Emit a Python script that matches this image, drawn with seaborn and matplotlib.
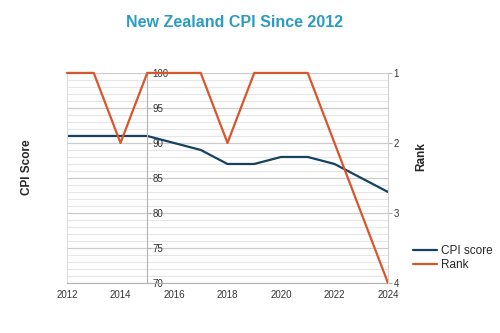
import matplotlib
matplotlib.use("Agg")
import matplotlib.pyplot as plt
import seaborn as sns
import pandas as pd
from matplotlib.ticker import MultipleLocator, FixedLocator

years = [2012, 2013, 2014, 2015, 2016, 2017, 2018, 2019, 2020, 2021, 2022, 2023, 2024]
cpi_score = [91, 91, 91, 91, 90, 89, 87, 87, 88, 88, 87, 85, 83]
rank = [1, 1, 2, 1, 1, 1, 2, 1, 1, 1, 2, 3, 4]
score_ticks = [70, 75, 80, 85, 90, 95, 100]
rank_ticks = [1, 2, 3, 4]

df = pd.DataFrame({"Year": years, "CPI score": cpi_score, "Rank": rank})

sns.set_style("white")
plt.rcParams["font.family"] = ["Liberation Sans", "DejaVu Sans"]

navy = "#17425f"
orange = "#d9552b"
axis_grey = "#b4b4b4"

fig = plt.figure(figsize=(5.0, 3.33), dpi=100)
ax = fig.add_axes([0.134, 0.150, 0.642, 0.631])
ax2 = ax.twinx()

# gridlines: light every point, stronger every five
ax.set_ylim(70, 100)
ax.yaxis.set_major_locator(FixedLocator(score_ticks))
ax.yaxis.set_minor_locator(MultipleLocator(1))
ax.grid(which="minor", axis="y", color="#e6e6e6", linewidth=0.8)
ax.grid(which="major", axis="y", color="#cccccc", linewidth=0.9)
ax.set_axisbelow(True)

# score axis sits on the 2015 line with its labels to the right
ax.set_xlim(2012, 2024)
ax.yaxis.tick_right()
ax.yaxis.set_label_position("left")
ax.spines["right"].set_position(("data", 2015))
ax.spines["right"].set_color(axis_grey)
ax.spines["left"].set_color("#dcdcdc")
ax.spines["left"].set_linewidth(0.8)
ax.spines["top"].set_visible(False)
ax.spines["bottom"].set_color(axis_grey)
ax.tick_params(axis="y", which="major", right=True, length=3, width=0.8,
               color=axis_grey, labelsize=7, labelcolor="#333333", pad=1)
ax.tick_params(axis="y", which="minor", right=False, left=False)

ax.xaxis.set_major_locator(FixedLocator(list(range(2012, 2025, 2))))
ax.xaxis.set_minor_locator(MultipleLocator(1))
ax.tick_params(axis="x", which="both", direction="in", length=3, width=0.8,
               color=axis_grey, labelsize=7, labelcolor="#333333", pad=5)
ax.set_xticklabels([str(y) for y in range(2012, 2025, 2)])

sns.lineplot(data=df, x="Year", y="CPI score", ax=ax, color=navy,
             linewidth=1.6, label="CPI score", legend=False)
ax.set_xlabel("")
ax.set_ylabel("CPI Score", fontsize=8.5, fontweight="bold")
ax.yaxis.set_label_coords(-0.106, 0.55)

sns.lineplot(data=df, x="Year", y="Rank", ax=ax2, color=orange,
             linewidth=1.6, label="Rank", legend=False)
for ln in ax2.lines:
    ln.set_clip_on(False)
ax2.set_ylim(4, 1)
ax2.yaxis.set_major_locator(FixedLocator(rank_ticks))
ax2.set_xlim(2012, 2024)
ax2.set_xlabel("")
ax2.set_ylabel("Rank", fontsize=8.5, fontweight="bold")
ax2.yaxis.set_label_coords(1.084, 0.60)
for side in ["top", "left", "bottom"]:
    ax2.spines[side].set_visible(False)
ax2.spines["right"].set_color("#d0d0d0")
ax2.tick_params(axis="y", right=True, length=3, width=0.8, color=axis_grey,
                labelsize=7, labelcolor="#333333", pad=1)

handles = ax.get_lines()[:1] + ax2.get_lines()[:1]
fig.legend(handles, ["CPI score", "Rank"], loc="upper left",
           bbox_to_anchor=(0.815, 0.283), frameon=False, fontsize=8.5,
           handlelength=2.0, handletextpad=0.3, labelspacing=0.2,
           borderpad=0.0)

fig.text(0.47, 0.932, "New Zealand CPI Since 2012", ha="center", va="center",
         fontsize=11.5, fontweight="bold", color="#2a9cc2")

fig.savefig("out.png", dpi=100)
